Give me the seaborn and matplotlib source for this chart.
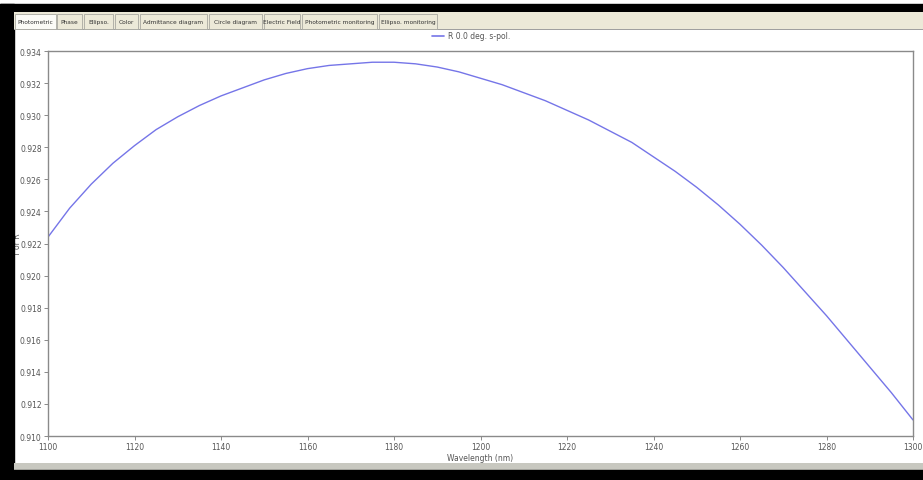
import matplotlib
matplotlib.use('Agg')
import matplotlib.pyplot as plt
from matplotlib.patches import Rectangle
import seaborn as sns
import pandas as pd

# spectrum (every 5 nm)
wavelength = [1100, 1105, 1110, 1115, 1120, 1125, 1130, 1135, 1140, 1145, 1150,
              1155, 1160, 1165, 1170, 1175, 1180, 1185, 1190, 1195, 1200,
              1205, 1210, 1215, 1220, 1225, 1230, 1235, 1240, 1245, 1250,
              1255, 1260, 1265, 1270, 1275, 1280, 1285, 1290, 1295, 1300]
t_or_r = [0.9224, 0.9242, 0.9257, 0.9270, 0.9281, 0.9291, 0.9299, 0.9306, 0.9312, 0.9317, 0.9322,
          0.9326, 0.9329, 0.9331, 0.9332, 0.9333, 0.9333, 0.9332, 0.9330, 0.9327, 0.9323,
          0.9319, 0.9314, 0.9309, 0.9303, 0.9297, 0.9290, 0.9283, 0.9274, 0.9265, 0.9255,
          0.9244, 0.9232, 0.9219, 0.9205, 0.9190, 0.9175, 0.9159, 0.9143, 0.9127, 0.9110]
series_name = 'R 0.0 deg. s-pol.'

tabs = ['Photometric', 'Phase', 'Ellipso.', 'Color', 'Admittance diagram', 'Circle diagram',
        'Electric Field', 'Photometric monitoring', 'Ellipso. monitoring']
tab_x = [15, 57, 84, 115, 140, 209, 264, 302, 379]
tab_w = [41, 25, 29, 23, 67, 53, 36, 75, 58]

x_ticks = list(range(1100, 1301, 20))
y_ticks = [0.910, 0.912, 0.914, 0.916, 0.918, 0.920, 0.922, 0.924, 0.926, 0.928, 0.930, 0.932, 0.934]

df = pd.DataFrame({'Wavelength (nm)': wavelength, 'T or R': t_or_r, 'series': series_name})

sns.set_style('white')
W, H = 923, 481
fig = plt.figure(figsize=(W / 100, H / 100), dpi=100)


def px(x, y, w, h):
    # pixel box (top-left origin) -> figure fraction
    return (x / W, 1 - (y + h) / H, w / W, h / H)


def box(x, y, w, h, **kw):
    b = px(x, y, w, h)
    fig.patches.append(Rectangle(b[:2], b[2], b[3], transform=fig.transFigure, **kw))


ax = fig.add_axes(px(48, 52, 865, 385))
sns.lineplot(data=df, x='Wavelength (nm)', y='T or R', hue='series',
             palette=['#7575e8'], linewidth=1.0, ax=ax, legend=False)

ax.set_xlim(1100, 1300)
ax.set_ylim(0.910, 0.934)
ax.set_xticks(x_ticks)
ax.set_yticks(y_ticks)
ax.set_xticklabels([str(v) for v in x_ticks])
ax.set_yticklabels(['%.3f' % v for v in y_ticks])
ax.tick_params(axis='both', labelsize=5.5, labelcolor='#555555', color='#777777',
               length=3, width=0.6, direction='out', left=True, bottom=True, pad=1.5)
for s in ax.spines.values():
    s.set_color('#8a8a8a')
    s.set_linewidth(1.0)
ax.set_xlabel('Wavelength (nm)', fontsize=5.5, color='#555555', labelpad=1)
ax.set_ylabel('T or R', fontsize=5.5, color='#555555')
ax.yaxis.set_label_coords(-0.03, 0.5)

# legend above the plot
lx, ly = 432, 37
fig.add_artist(plt.Line2D([lx / W, (lx + 12) / W], [1 - ly / H, 1 - ly / H],
                          color='#7575e8', linewidth=1.2))
fig.text((lx + 16) / W, 1 - ly / H, series_name, fontsize=5.5, color='#555555', va='center')

# window chrome: black borders, tab strip, bottom bar
box(0, 5, W, 8, color='black', zorder=0)
box(0, 5, 14, H, color='black', zorder=0)
box(14, 13, W - 14, 18, facecolor='#ece9d8', edgecolor='none', zorder=0)
box(14, 30, W - 14, 1, facecolor='#a0a0a0', edgecolor='none', zorder=0)
for name, x0, w in zip(tabs, tab_x, tab_w):
    box(x0, 15, w, 15, facecolor='#fbfbf6' if name == 'Photometric' else '#ece9d8',
        edgecolor='#a8a8a0', linewidth=0.6, zorder=1)
    fig.text((x0 + w / 2) / W, 1 - 22.5 / H, name, fontsize=4.2, color='#333333',
             ha='center', va='center')
box(14, 464, W - 14, 7, facecolor='#c8c8c0', edgecolor='none', zorder=0)
box(0, 471, W, 10, color='black', zorder=0)

fig.savefig('out.png', dpi=100, facecolor='white')
